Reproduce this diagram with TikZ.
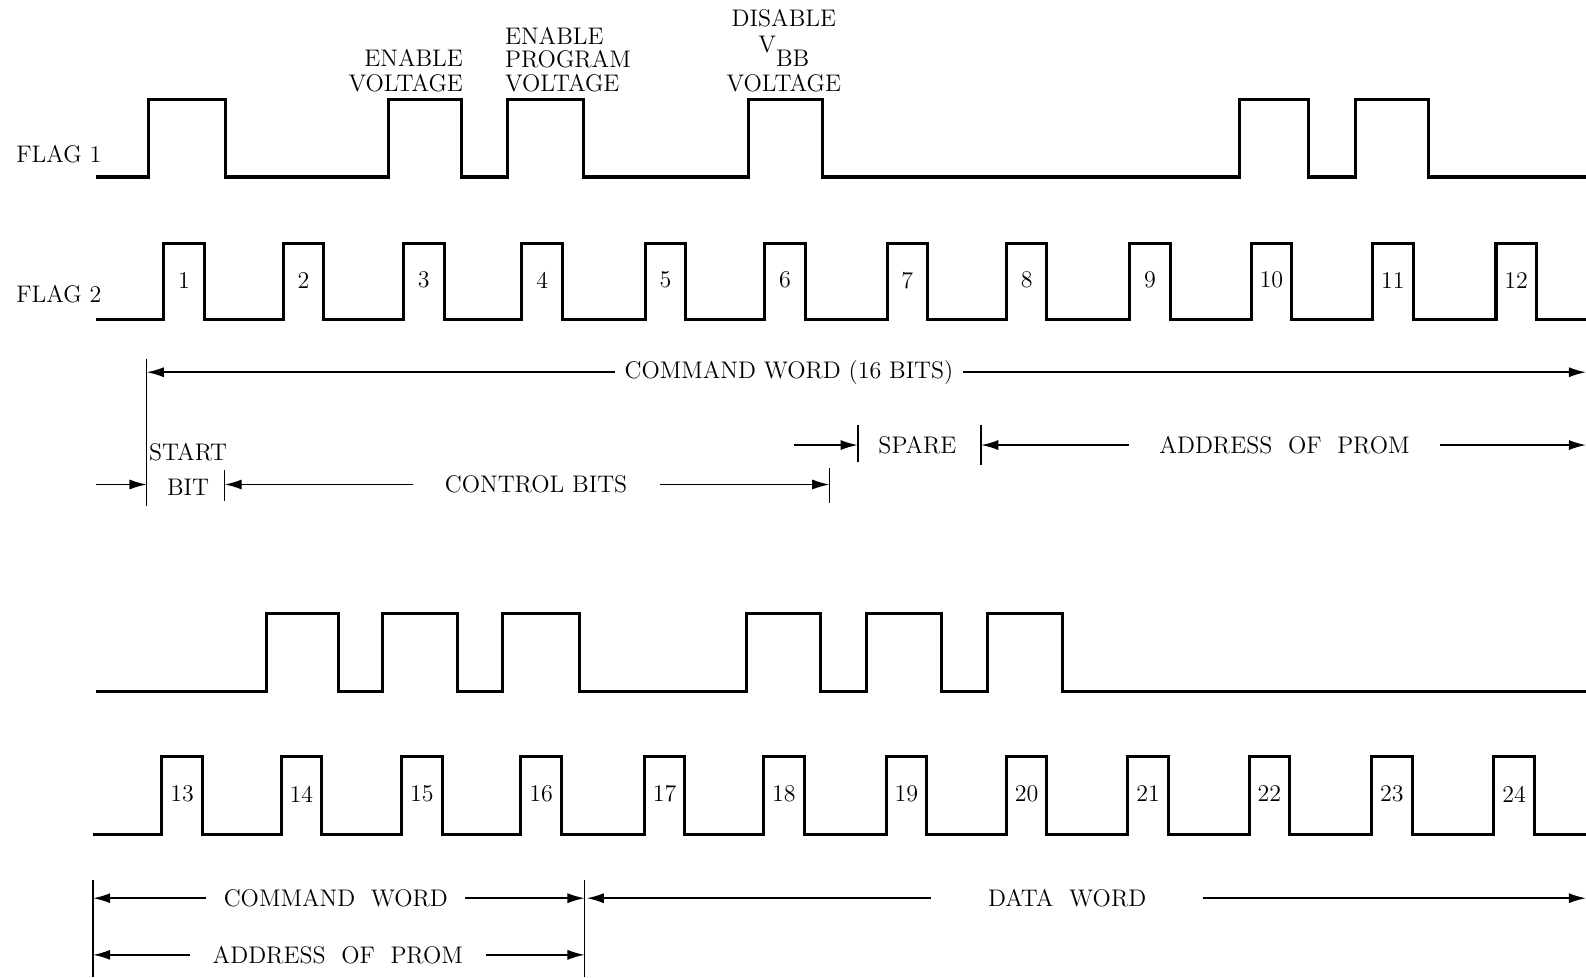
\documentclass[tikz,border=0pt]{standalone}
\usepackage{tikz}
\usetikzlibrary{arrows.meta}

\begin{document}
\begin{tikzpicture}[x=0.02cm, y=-0.02cm,
    sig/.style={line width=1.7pt},
    dim/.style={line width=0.9pt, -{Latex[length=0.34cm,width=0.2cm]}},
    tick/.style={line width=0.9pt},
    every node/.style={font=\fontsize{13.5}{15}\selectfont}]
  \useasboundingbox (0,0) rectangle (1568,966);

  % upper flag 1 and flag 2
  \node[anchor=west] (flag1) at (10,152) {FLAG 1};
  \node[anchor=west] (flag2) at (10,291) {FLAG 2};
  \draw[sig] (95,175)
    \foreach \a/\b in {147/223,384/456,502/577,740/813,1225/1294,1340/1412}
      { -- (\a,175) -- (\a,98) -- (\b,98) -- (\b,175) } -- (1568,175);
  \draw[sig] (95,316)
    \foreach \a in {162,280,399,516,638,756,877,995,1117,1237,1357,1479}
      { -- (\a,316) -- (\a,241) -- (\a+40,241) -- (\a+40,316) } -- (1568,316);
  \foreach \n/\a in {1/162,2/280,3/399,4/516,5/638,6/756,7/877,8/995,9/1117,10/1237,11/1357,12/1479}
    \node (bit\n) at (\a+20,277) {\n};

  % pulse labels
  \node[anchor=south east, align=right, inner sep=0pt,
        font=\fontsize{13.5}{13.8}\selectfont] (envolt) at (458,91) {ENABLE\\VOLTAGE};
  \node[anchor=south west, align=left, inner sep=0pt,
        font=\fontsize{13.5}{13.2}\selectfont] (enprog) at (499,91) {ENABLE\\PROGRAM\\VOLTAGE};
  \node[anchor=south, align=center, inner sep=0pt,
        font=\fontsize{13.5}{13.8}\selectfont] (disvbb) at (775,91)
    {DISABLE\\[1pt] V\smash{\raisebox{-8pt}{BB}}\\[8pt]VOLTAGE};

  % command word (16 bits)
  \draw[tick] (145,355) -- (145,500);
  \coordinate (cwL) at (145,368);
  \coordinate (cwR) at (1568,368);
  \node[inner xsep=5pt] (cword) at (780,368) {COMMAND WORD (16 BITS)};
  \draw[dim] (cword.west) -- (cwL);
  \draw[dim] (cword.east) -- (cwR);

  % spare and address
  \draw[tick] (848,420) -- (848,457);
  \draw[tick] (970,420) -- (970,460);
  \coordinate (spL) at (785,440);
  \coordinate (spR) at (848,440);
  \draw[dim] (spL) -- (spR);
  \node (spare) at (907,440) {SPARE};
  \coordinate (adL) at (970,440);
  \coordinate (adR) at (1568,440);
  \node[inner xsep=17pt] (addr) at (1270,440) {ADDRESS\ \ OF\ \ PROM};
  \draw[dim] (addr.west) -- (adL);
  \draw[dim] (addr.east) -- (adR);

  % start bit and control bits
  \draw[tick] (222,465) -- (222,495);
  \draw[tick] (820,463) -- (820,497);
  \coordinate (sbL) at (95,479);
  \coordinate (sbR) at (145,479);
  \draw[dim] (sbL) -- (sbR);
  \node[align=center] (start) at (186,464) {START\\[4.3pt]BIT};
  \coordinate (cbL) at (222,479);
  \coordinate (cbR) at (820,479);
  \node[inner xsep=18pt] (ctrl) at (530,479) {CONTROL BITS};
  \draw[dim] (ctrl.west) -- (cbL);
  \draw[dim] (ctrl.east) -- (cbR);

  % lower flag 1 and flag 2
  \draw[sig] (95,684)
    \foreach \a/\b in {263/335,378/452,497/573,738/811,857/931,976/1050}
      { -- (\a,684) -- (\a,607) -- (\b,607) -- (\b,684) } -- (1568,684);
  \draw[sig] (92,825)
    \foreach \a in {160,278,397,515,637,755,876,995,1115,1235,1356,1477}
      { -- (\a,825) -- (\a,748) -- (\a+40,748) -- (\a+40,825) } -- (1568,825);
  \foreach \n/\a in {13/160,14/278,15/397,16/515,17/637,18/755,19/876,20/995,21/1115,22/1235,23/1356,24/1477}
    \node (bit\n) at (\a+20,785) {\n};

  % command word, data word, address
  \draw[tick] (92,870) -- (92,966);
  \draw[tick] (578,870) -- (578,966);
  \coordinate (cwlL) at (92,888);
  \coordinate (cwlR) at (578,888);
  \node[inner xsep=9.6pt] (cwordlow) at (332,888) {COMMAND\ \ WORD};
  \draw[dim] (cwordlow.west) -- (cwlL);
  \draw[dim] (cwordlow.east) -- (cwlR);
  \coordinate (dwL) at (580,888);
  \coordinate (dwR) at (1568,888);
  \node[inner xsep=32pt] (dword) at (1055,888) {DATA\ \ WORD};
  \draw[dim] (dword.west) -- (dwL);
  \draw[dim] (dword.east) -- (dwR);
  \coordinate (alL) at (92,944);
  \coordinate (alR) at (578,944);
  \node[inner xsep=12.5pt] (addrlow) at (334,944) {ADDRESS\ \ OF\ \ PROM};
  \draw[dim] (addrlow.west) -- (alL);
  \draw[dim] (addrlow.east) -- (alR);
\end{tikzpicture}
\end{document}
